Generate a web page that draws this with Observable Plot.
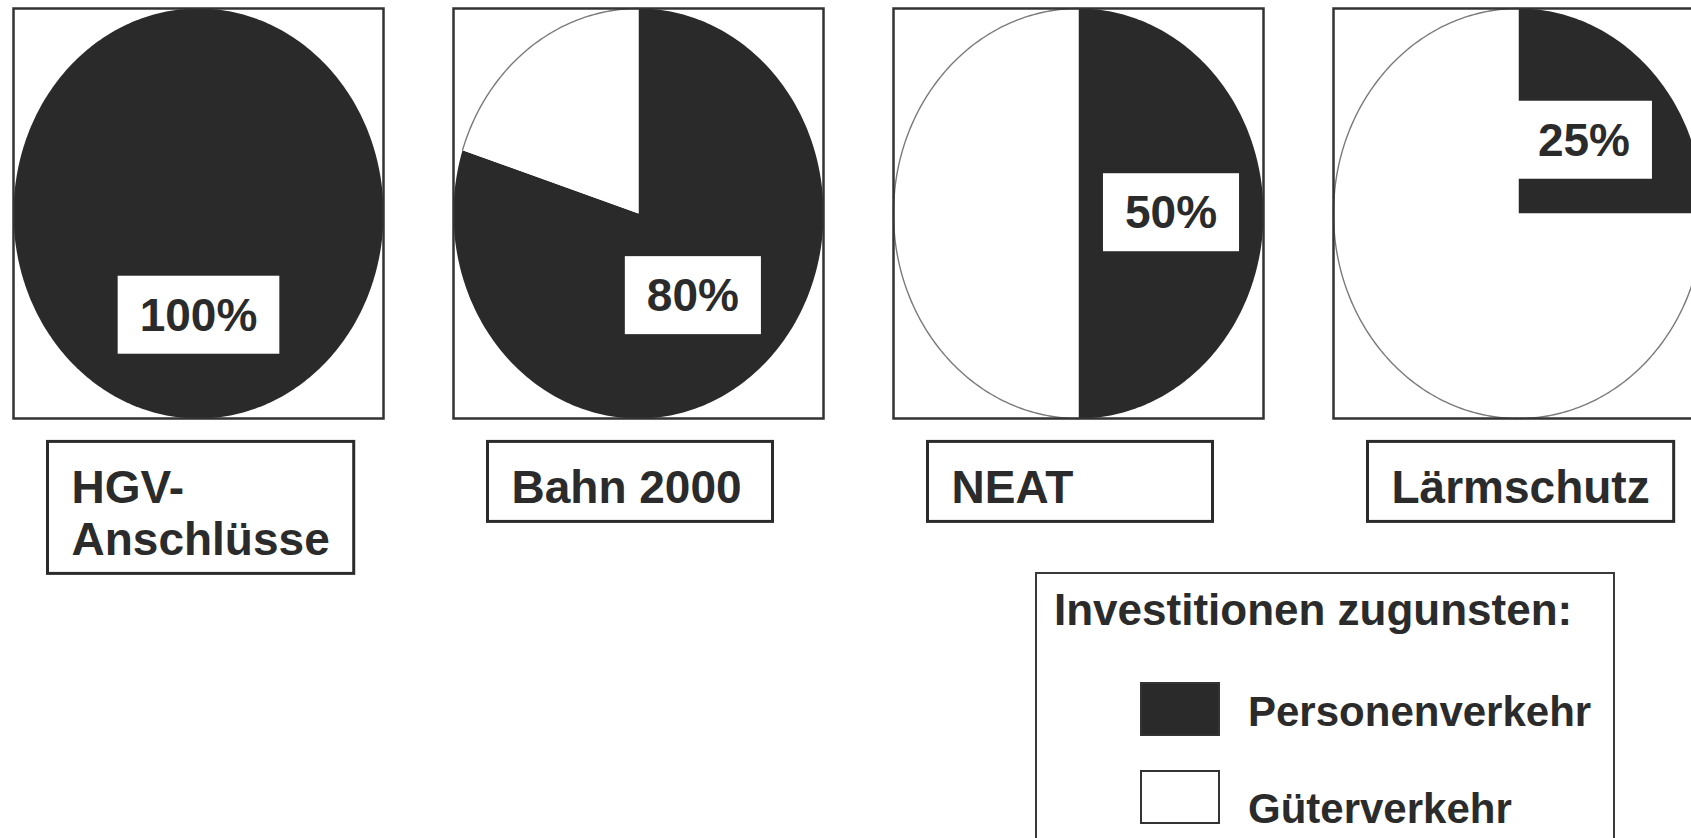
<!DOCTYPE html>
<html>
<head>
<meta charset="utf-8">
<script src="https://cdn.jsdelivr.net/npm/d3@7"></script>
<script src="https://cdn.jsdelivr.net/npm/@observablehq/plot@0.6"></script>
<style>
html, body { margin: 0; padding: 0; background: #fff; overflow: hidden; }
#wrap { position: relative; width: 1691px; height: 838px; overflow: hidden; background: #fff;
  font-family: "Liberation Sans", Arial, sans-serif; color: #2b2b2b; }
#chart { width: 1710px; }
#chart svg { max-width: none !important; display: block; }
#legend { box-sizing: border-box; margin-left: 1035px; margin-top: -8px; width: 580px; height: 320px;
  border: 2px solid #3a3a3a; background: #fff; }
#legend .title { font-size: 44px; font-weight: bold; line-height: 44px; padding: 14px 0 0 17px; white-space: nowrap; }
#legend .lg-swatches { font-family: "Liberation Sans", Arial, sans-serif; font-size: 42px; margin: 51px 0 0 0; padding: 0; color: #2b2b2b; }
#legend .lg-swatch { display: flex; align-items: flex-start; margin: 0 0 36px 104px; padding: 0; }
#legend .lg-swatch > svg { margin: 0; overflow: visible; flex-shrink: 0; }
#legend .lg-swatch > svg rect { stroke: #333; stroke-width: 2px; }
#legend .lg-swatch-label { font-size: 42px; font-weight: bold; line-height: 52px; margin-left: 29px; position: relative; top: 3px; overflow: visible; }
#legend .lg-swatch:last-child .lg-swatch-label { top: 12px; }
</style>
</head>
<body>
<div id="wrap">
  <div id="chart"></div>
  <div id="legend"></div>
</div>
<script>
// ---- data ----
const projects = ["HGV-Anschlüsse", "Bahn 2000", "NEAT", "Lärmschutz"];
const projectLabels = ["HGV-\nAnschlüsse", "Bahn 2000", "NEAT", "Lärmschutz"];
const personenShare = [100, 80, 50, 25];
const shareLabels = ["100%", "80%", "50%", "25%"];
const legendTitle = "Investitionen zugunsten:";
const segmentKeys = ["Personenverkehr", "Güterverkehr"];

// ---- build pie geometry (unit circle, 12 o'clock, clockwise) ----
const DARK = "#2a2a2a";
const TEXT = "#2b2b2b";
const FONT = "'Liberation Sans', Arial, sans-serif";
const wedges = [];
const outline = [];
const STEP = Math.PI / 180;
projects.forEach((project, i) => {
  const shares = [personenShare[i], 100 - personenShare[i]];
  let a0 = 0;
  shares.forEach((s, k) => {
    if (s <= 0) return;
    const a1 = a0 + (s / 100) * 2 * Math.PI;
    const id = project + "|" + segmentKeys[k];
    const n = Math.max(2, Math.ceil((a1 - a0) / STEP));
    if (s < 100) wedges.push({x: 0, y: 0, project, key: segmentKeys[k], id});
    for (let j = 0; j <= n; j++) {
      const a = a0 + (a1 - a0) * j / n;
      const p = {x: Math.sin(a), y: Math.cos(a), project, key: segmentKeys[k], id};
      wedges.push(p);
      if (k === 1) outline.push(p);
    }
    a0 = a1;
  });
});

// share label sits on the middle of the Personenverkehr wedge, half-way out
const labelRows = projects.map((project, i) => {
  const mid = (personenShare[i] / 100) * Math.PI;
  return {project, text: shareLabels[i], x: 0.5 * Math.sin(mid), y: 0.5 * Math.cos(mid)};
});
const catRows = projects.map((project, i) => ({project, label: projectLabels[i]}));

const chart = Plot.plot({
  width: 1710,
  height: 580,
  marginLeft: 13,
  marginRight: 7,
  marginTop: 8,
  marginBottom: 162,
  style: {fontFamily: FONT, background: "#fff"},
  x: {domain: [-1, 1], axis: null},
  y: {domain: [-1, 1], axis: null},
  fx: {domain: projects, axis: null, paddingInner: 70 / 440, paddingOuter: 0},
  color: {domain: segmentKeys, range: [DARK, "#ffffff"]},
  marks: [
    Plot.line(wedges, {x: "x", y: "y", z: "id", fx: "project", fill: "key", stroke: "none"}),
    Plot.line(outline, {x: "x", y: "y", z: "project", fx: "project", stroke: "#7a7a7a", strokeWidth: 1.4}),
    Plot.frame({stroke: "#333", strokeWidth: 2.5}),
    Plot.text(labelRows, {x: "x", y: "y", fx: "project", text: "text", fontSize: 46, fontWeight: "bold",
      fontFamily: FONT, fill: TEXT}),
    Plot.text(catRows, {fx: "project", text: "label", frameAnchor: "bottom-left", textAnchor: "start",
      lineAnchor: "top", dx: 58, dy: 48, fontSize: 46, fontWeight: "bold", lineHeight: 1.13,
      fontFamily: FONT, fill: TEXT})
  ]
});
document.getElementById("chart").appendChild(chart);

// boxes behind labels, sized from the rendered text
const NS = "http://www.w3.org/2000/svg";
function boxify(texts, pad, attrs) {
  chart.querySelectorAll("text").forEach(t => {
    if (!texts.includes(t.textContent)) return;
    const b = t.getBBox();
    const r = document.createElementNS(NS, "rect");
    const w = Math.max(b.width + pad.l + pad.r, pad.minW || 0);
    r.setAttribute("x", b.x - pad.l);
    r.setAttribute("y", b.y - pad.t);
    r.setAttribute("width", w);
    r.setAttribute("height", b.height + pad.t + pad.b);
    const tr = t.getAttribute("transform");
    if (tr) r.setAttribute("transform", tr);
    for (const k in attrs) r.setAttribute(k, attrs[k]);
    t.parentNode.insertBefore(r, t);
  });
}
boxify(shareLabels, {l: 22, r: 22, t: 13, b: 13}, {fill: "#fff", stroke: "none"});
boxify(projectLabels.map(s => s.replace("\n", "")), {l: 24, r: 24, t: 20, b: 8, minW: 285},
  {fill: "#fff", stroke: "#2b2b2b", "stroke-width": 3});

// legend
const legendDiv = document.getElementById("legend");
const title = document.createElement("div");
title.className = "title";
title.textContent = legendTitle;
legendDiv.appendChild(title);
legendDiv.appendChild(Plot.legend({
  color: chart.scale("color"),
  legend: "swatches",
  columns: 1,
  swatchWidth: 78,
  swatchHeight: 52,
  className: "lg"
}));
</script>
</body>
</html>
